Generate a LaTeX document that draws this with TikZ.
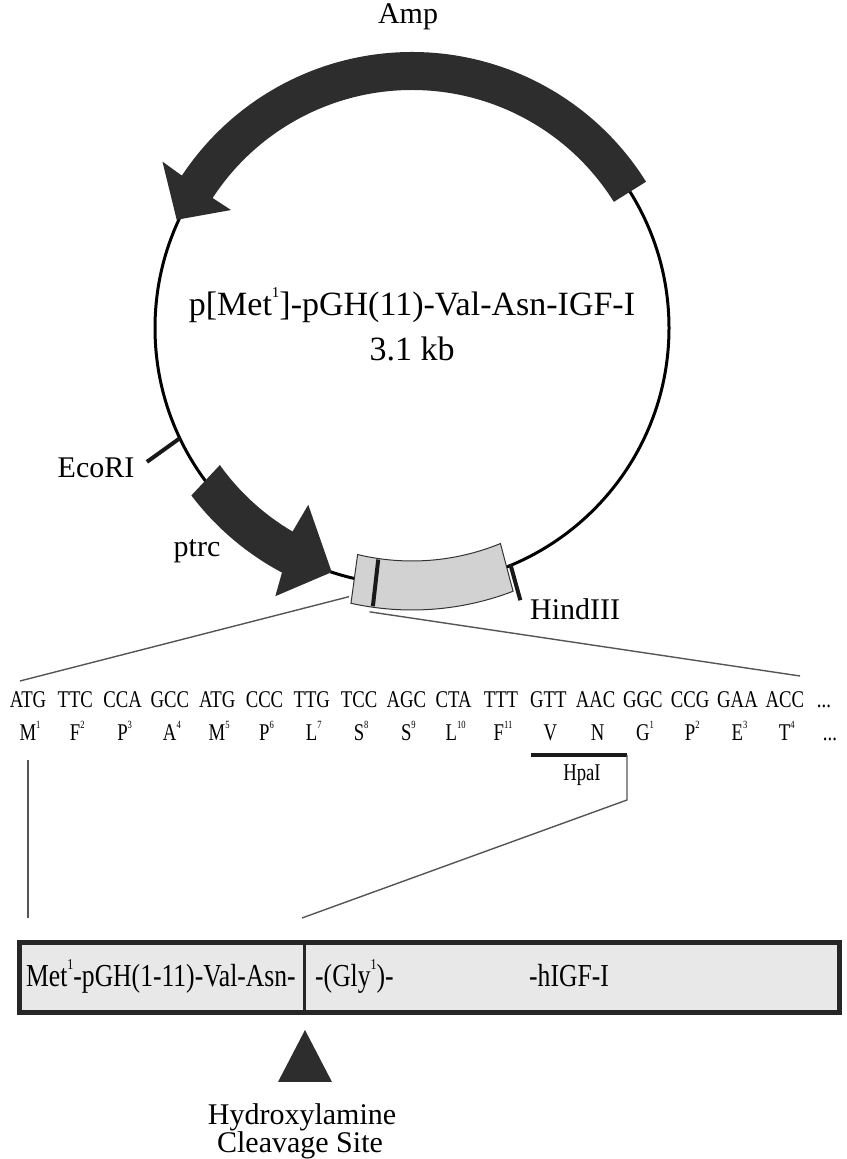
\documentclass[tikz,border=0pt]{standalone}
\usepackage{fontspec}
\setmainfont{Liberation Serif}
\newfontfamily\condA[FakeStretch=0.8]{Liberation Serif}
\newfontfamily\condB[FakeStretch=0.78]{Liberation Serif}
\newcommand{\smallsup}[2]{\raisebox{#1}{\fontsize{#2}{#2}\selectfont\supval}}
\newcommand{\supval}{}
\newcommand{\seqsup}[1]{\renewcommand{\supval}{#1}\smallsup{0.5em}{11}}
\newcommand{\bigsup}[1]{\renewcommand{\supval}{#1}\smallsup{0.55em}{15}}
\definecolor{arrowgray}{HTML}{2D2D2D}
\definecolor{boxgray}{HTML}{D2D2D2}
\definecolor{fusegray}{HTML}{E8E8E8}
\definecolor{expgray}{HTML}{555555}
\tikzset{
  plasline/.style={line width=3pt, black},
  arrowfill/.style={fill=arrowgray},
  tickline/.style={line width=4pt, black!90},
  expline/.style={line width=1.4pt, expgray},
  lbl/.style={inner sep=0pt, font=\fontsize{30}{36}\selectfont},
  titletext/.style={inner sep=0pt, anchor=base, font=\fontsize{34}{40}\selectfont},
  codon/.style={inner sep=0pt, anchor=base, font=\condB\fontsize{24}{28}\selectfont},
  amino/.style={inner sep=0pt, anchor=base, font=\condB\fontsize{24}{28}\selectfont},
  fusetext/.style={inner sep=0pt, anchor=base, font=\condA\fontsize{32}{38}\selectfont},
  captext/.style={inner sep=0pt, font=\fontsize{30}{36}\selectfont},
}
\begin{document}
\begin{tikzpicture}[x=1pt,y=1pt]
\useasboundingbox (0,0) rectangle (846,1159);

% ---------------- plasmid ----------------
\begin{scope}[shift={(412,831)}]
  \coordinate (O) at (0,0);
  \draw[plasline] (O) circle[radius=257pt];
  % Amp arrow
  \fill[arrowfill] (32:238pt) -- (32:276pt)
     arc[start angle=32,end angle=146.5,radius=276pt]
     -- (146.3:300pt) -- (155.3:259pt) -- (146.9:216pt) -- (146.9:238pt)
     arc[start angle=146.9,end angle=32,radius=238pt] -- cycle;
  % ptrc arrow
  \fill[arrowfill] (215.5:236pt) -- (217.2:277pt)
     arc[start angle=217.2,end angle=242,radius=277pt]
     -- (243:301pt) -- (251.8:257pt) -- (239.6:205pt) -- (239.6:236pt)
     arc[start angle=239.6,end angle=215.5,radius=236pt] -- cycle;
  % insert box
  \filldraw[fill=boxgray, draw=black!80, line width=1pt]
     (256.5:233pt) arc[start angle=256.5,end angle=292.3,radius=233pt]
     -- (291:282pt) arc[start angle=291,end angle=257.5,radius=282pt] -- cycle;
  \draw[line width=4pt, black!90] (261.7:234pt) -- (262:281pt);
  % restriction ticks
  \draw[tickline] (205.4:257pt) -- (206.8:297pt);
  \draw[tickline] (292.6:256pt) -- (291.7:293pt);
  % expansion anchors
  \coordinate (exL) at (256.8:276pt);
  \coordinate (exR) at (261.5:287pt);
\end{scope}

\node[lbl] (amp) at (408,1142) {Amp};
\node[titletext] (title) at (412,843) {p[Met\bigsup{1}]-pGH(11)-Val-Asn-IGF-I};
\node[titletext] (size) at (412,798) {3.1 kb};
\node[lbl, anchor=base] (ecori) at (96,681) {EcoRI};
\node[lbl, anchor=base] (ptrc) at (197,602) {ptrc};
\node[lbl, anchor=base west] (hind) at (530,539) {HindIII};

% expansion lines
\coordinate (exLe) at (20,478);
\coordinate (exRe) at (800,483);
\draw[expline] (exL) -- (exLe);
\draw[expline] (exR) -- (exRe);

% ---------------- sequence ----------------
\foreach \c [count=\i from 0] in {ATG,TTC,CCA,GCC,ATG,CCC,TTG,TCC,AGC,CTA,TTT,GTT,AAC,GGC,CCG,GAA,ACC}
  \node[codon] (c\i) at ({28+47.3*\i},451) {\c};
\node[codon] (cdots) at (824,451) {...};

\foreach \a/\s [count=\i from 0] in {M/1,F/2,P/3,A/4,M/5,P/6,L/7,S/8,S/9,L/10,F/11,V/{},N/{},G/1,P/2,E/3,T/4}
  \node[amino] (a\i) at ({30+47.3*\i},418) {\a\seqsup{\s}};
\node[amino] (adots) at (830,418) {...};

% HpaI site
\coordinate (hpL) at (531,404);
\coordinate (hpR) at (627,404);
\draw[line width=4pt, black!90] (hpL) -- (hpR);
\node[inner sep=0pt, font=\condB\fontsize{24}{28}\selectfont] (hpa) at (582,384) {HpaI};
\coordinate (brk) at (627,359);
\coordinate (brkEnd) at (302,241);
\draw[expline] (hpR) -- (brk) -- (brkEnd);
\coordinate (vTop) at (28,399);
\coordinate (vBot) at (28,241);
\draw[expline] (vTop) -- (vBot);

% ---------------- fusion protein ----------------
\coordinate (fSW) at (19,146);
\coordinate (fNE) at (839,216);
\fill[fusegray] (fSW) rectangle (fNE);
\draw[line width=3pt, black!85] (304,146) -- (304,216);
\draw[line width=5pt, black!85] (fSW) rectangle (fNE);
\node[fusetext, anchor=base west] (f1) at (26,172) {Met\bigsup{1}-pGH(1-11)-Val-Asn-};
\node[fusetext, anchor=base west] (f2) at (315,172) {-(Gly\bigsup{1})-};
\node[fusetext, anchor=base west] (f3) at (529,172) {-hIGF-I};

% cleavage marker
\fill[arrowgray] (305,129) -- (278,77) -- (332,77) -- cycle;
\node[captext] (hyd) at (302,42) {Hydroxylamine};
\node[captext] (cls) at (300,14) {Cleavage Site};
\end{tikzpicture}
\end{document}
